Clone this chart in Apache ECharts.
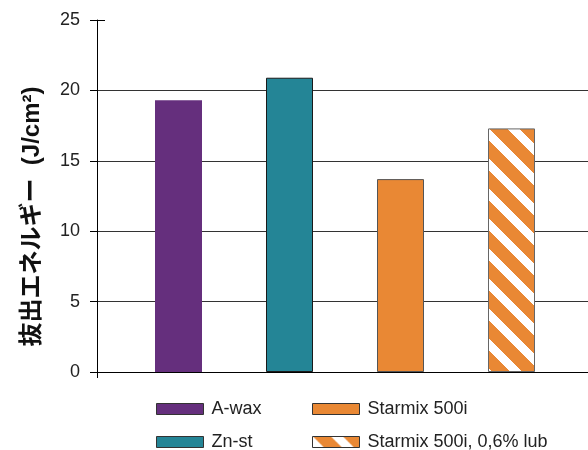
<!DOCTYPE html>
<html><head><meta charset="utf-8">
<script src="https://cdn.jsdelivr.net/npm/echarts@6/dist/echarts.min.js"></script>
<style>html,body{margin:0;padding:0;background:#fff}#c{width:588px;height:450px}</style>
</head><body><div id="c"></div>
<script>
const categories = ['A-wax', 'Zn-st', 'Starmix 500i', 'Starmix 500i, 0,6% lub'];
const values = [19.3, 20.9, 13.7, 17.3];
const yTicks = [0, 5, 10, 15, 20, 25];
const yTitle = '抜出エネルギー  (J/cm²)';

const ORANGE = '#E98834';
function makeHatch() {
  const s = 30, w = 12;
  const cv = document.createElement('canvas');
  cv.width = s; cv.height = s;
  const ctx = cv.getContext('2d');
  ctx.fillStyle = ORANGE; ctx.fillRect(0, 0, s, s);
  ctx.fillStyle = '#ffffff';
  for (let y = 0; y < s; y++) for (let x = 0; x < s; x++) {
    if ((((y - x) % s) + s) % s < w) ctx.fillRect(x, y, 1, 1);
  }
  return cv;
}
const hatch = makeHatch();
const styles = [
  { color: '#652F7D', borderColor: '#652F7D', borderWidth: 0 },
  { color: '#248596', borderColor: '#1a1a1a', borderWidth: 1 },
  { color: ORANGE, borderColor: '#555', borderWidth: 1 },
  { color: { image: hatch, repeat: 'repeat' }, borderColor: '#666', borderWidth: 1 }
];

const chart = echarts.init(document.getElementById('c'), null, { renderer: 'canvas' });
const FONT = 'Liberation Sans, Arial, sans-serif';
const series = categories.map((name, i) => ({
  name, type: 'bar', xAxisIndex: 1, yAxisIndex: 1, stack: 'all', barWidth: 47,
  data: categories.map((c, j) => j === i ? values[i] : '-'),
  itemStyle: styles[i], emphasis: { disabled: true }, animation: false
}));
const legendText = { fontFamily: FONT, fontSize: 18, color: '#222', padding: [0, 0, 0, 3] };
const legendPos = [[156, 400], [156, 433], [312, 400], [312, 433]];
const legends = categories.map((name, i) => ({
  left: legendPos[i][0], top: legendPos[i][1], itemWidth: 47, itemHeight: 11, icon: 'rect',
  data: [{ name, itemStyle: { borderColor: '#333', borderWidth: 1 } }],
  textStyle: legendText, selectedMode: false, padding: 0
}));

chart.setOption({
  animation: false,
  grid: [
    { left: 97, right: -2, top: 20, bottom: 78 },
    { left: 123, right: 21, top: 20, bottom: 78 },
    { left: 97, right: -2, top: 90.4, bottom: 78 }
  ],
  legend: legends,
  xAxis: [
    { gridIndex: 0, type: 'value', min: 0, max: 1, interval: 1,
      axisLine: { show: true, lineStyle: { color: '#000', width: 1 } },
      axisTick: { show: true, length: 6, lineStyle: { color: '#000' } },
      axisLabel: { show: false }, splitLine: { show: false } },
    { gridIndex: 1, type: 'category', data: categories, show: false },
    { gridIndex: 2, type: 'value', min: 0, max: 1, show: false, splitLine: { show: false } }
  ],
  yAxis: [
    { gridIndex: 0, type: 'value', position: 'left', min: yTicks[0], max: yTicks[yTicks.length - 1], interval: 5,
      axisLine: { show: true, lineStyle: { color: '#000', width: 1 } },
      axisTick: { show: true, length: 7, lineStyle: { color: '#000' } },
      axisLabel: { fontFamily: FONT, fontSize: 18, color: '#222', margin: 17 },
      splitLine: { show: false } },
    { gridIndex: 1, type: 'value', min: 0, max: 25, show: false, splitLine: { show: false } },
    { gridIndex: 2, type: 'value', min: 0, max: 20, interval: 5,
      axisLine: { show: false }, axisTick: { show: false }, axisLabel: { show: false },
      splitLine: { show: true, lineStyle: { color: '#333', width: 1 } } },
    { gridIndex: 0, type: 'value', position: 'left', offset: 0, min: 0, max: 25, interval: 25,
      axisLine: { show: false }, axisLabel: { show: false }, splitLine: { show: false },
      axisTick: { show: true, inside: true, length: 8, lineStyle: { color: '#000' } } }
  ],
  graphic: [
    { type: 'text', x: 32, y: 216.5, rotation: Math.PI / 2,
      style: { text: yTitle, fontFamily: 'Liberation Sans, "Noto Sans CJK JP", sans-serif', fontWeight: 'bold',
        fontSize: 24, fill: '#111', textAlign: 'center', textVerticalAlign: 'middle' } }
  ],
  series
});
</script></body></html>
